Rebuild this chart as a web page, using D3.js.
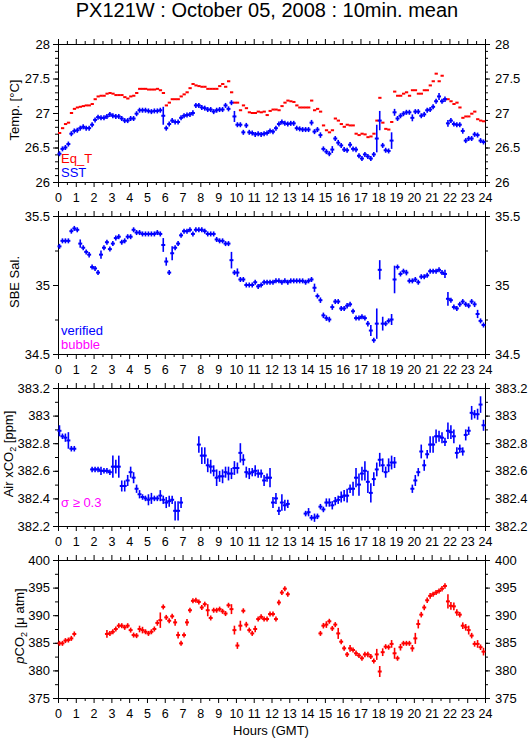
<!DOCTYPE html>
<html>
<head>
<meta charset="utf-8">
<script src="https://cdn.jsdelivr.net/npm/d3@7"></script>
<style>
  body { margin: 0; background: #fff; }
  svg { display: block; }
  text { font-family: "Liberation Sans", Arial, Helvetica, sans-serif; fill: #000; }
</style>
</head>
<body>
<svg id="chart"></svg>
<script>
// 10-minute means, one value per slot (144 slots, slot i starts at i/6 h GMT); null = no data
const eqT = [
  26.71, 26.78, 26.84, 26.86, 27.0, 27.06,
  27.08, 27.09, 27.1, 27.11, 27.11, 27.13,
  27.2, 27.24, 27.25, 27.25, 27.28, 27.29,
  27.28, 27.26, 27.26, 27.26, 27.23, 27.21,
  27.24, 27.25, 27.29, 27.35, 27.35, 27.35,
  27.34, 27.34, 27.34, 27.35, 27.33, 27.29,
  27.11, 27.15, 27.2, 27.2, 27.2, 27.24,
  27.27, 27.3, 27.36, 27.42, 27.4, 27.39,
  27.38, 27.38, 27.35, 27.35, 27.35, 27.35,
  27.39, 27.42, 27.38, 27.46, 27.3, 27.15,
  27.15, 27.04, 27.11, 27.07, 27.01, 27.0,
  27.0, 27.02, 27.01, 27.02, 26.97, 27.03,
  27.05, 27.05, 27.04, 27.1, 27.15, 27.18,
  27.17, 27.16, 27.11, 27.08, 27.08, 27.08,
  27.08, 27.18, 27.04, 27.06, 27.02, 26.82,
  26.75, 26.72, 26.75, 26.92, 26.89, 26.84,
  26.8, 26.83, 26.82, 26.82, 26.7, 26.68,
  26.7, 26.69, 26.65, 26.66, 26.7, 26.89,
  27.22, 26.86, 26.77, 26.76, 26.87, 27.31,
  27.25, 27.25, 27.28, 27.3, 27.25, 27.33,
  27.33, 27.28, 27.28, 27.33, 27.33, 27.4,
  27.46, 27.57, 27.46, 27.54, 27.2, 27.2,
  27.17, 27.13, 27.15, 27.08, 26.93, 26.95,
  26.95, 26.99, 27.02, 26.91, 26.89, 26.88
];

const sst = [
  26.41, 26.48, 26.5, 26.55, 26.7, 26.74,
  26.75, 26.78, 26.8, 26.78, 26.78, 26.83,
  26.9, 26.94, 26.93, 26.93, 26.95, 26.98,
  26.96, 26.95, 26.95, 26.92, 26.89, 26.89,
  26.92, 26.92, 26.99, 27.04, 27.04, 27.04,
  27.03, 27.02, 27.03, 27.03, 27.04, 26.96,
  26.78, 26.84, 26.89, 26.87, 26.87, 26.93,
  26.96, 26.97, 26.98, 27.0, 27.11, 27.11,
  27.08, 27.07, 27.05, 27.05, 27.02, 27.04,
  27.05, 27.05, 27.11, 27.06, 27.15, 26.95,
  26.83, 26.83, 26.72, 26.82, 26.72, 26.71,
  26.69, 26.7, 26.69, 26.7, 26.71, 26.74,
  26.73, 26.78, 26.84, 26.87, 26.85, 26.84,
  26.85, 26.85, 26.78, 26.77, 26.76, 26.76,
  26.76, 26.86, 26.73, 26.76, 26.68, 26.48,
  26.44, 26.41, 26.47, 26.63, 26.57, 26.53,
  26.47, 26.46, 26.54, 26.48, 26.47, 26.38,
  26.34, 26.4, 26.37, 26.34, 26.4, 26.63,
  26.89, 26.53, 26.46, 26.45, 26.6, 27.01,
  26.92, 26.96, 26.99, 27.01, 27.01, 26.93,
  27.02, 27.02, 26.96, 26.98, 27.04, 27.05,
  27.09, 27.17, 27.24, 27.17, 27.2, 26.85,
  26.89, 26.84, 26.83, 26.83, 26.74, 26.6,
  26.63, 26.63, 26.69, 26.68, 26.6, 26.58
];

const sstSd = [
  0.01, 0.01, 0.01, 0.03, 0.03, 0.01,
  0.01, 0.03, 0.02, 0.01, 0.01, 0.03,
  0.01, 0.01, 0.01, 0.01, 0.01, 0.01,
  0.01, 0.01, 0.01, 0.01, 0.01, 0.01,
  0.01, 0.03, 0.01, 0.01, 0.01, 0.01,
  0.01, 0.01, 0.01, 0.01, 0.01, 0.13,
  0.01, 0.01, 0.01, 0.01, 0.01, 0.01,
  0.01, 0.01, 0.01, 0.04, 0.01, 0.01,
  0.01, 0.01, 0.01, 0.01, 0.01, 0.01,
  0.01, 0.01, 0.01, 0.01, 0.01, 0.08,
  0.01, 0.01, 0.02, 0.01, 0.03, 0.01,
  0.01, 0.01, 0.01, 0.01, 0.02, 0.01,
  0.01, 0.01, 0.01, 0.01, 0.01, 0.01,
  0.01, 0.01, 0.01, 0.01, 0.01, 0.01,
  0.01, 0.04, 0.01, 0.02, 0.04, 0.01,
  0.01, 0.01, 0.05, 0.01, 0.04, 0.01,
  0.01, 0.01, 0.04, 0.01, 0.04, 0.01,
  0.01, 0.01, 0.01, 0.01, 0.01, 0.2,
  0.14, 0.01, 0.01, 0.01, 0.12, 0.05,
  0.01, 0.01, 0.01, 0.01, 0.01, 0.05,
  0.01, 0.01, 0.01, 0.01, 0.01, 0.01,
  0.01, 0.01, 0.05, 0.01, 0.04, 0.05,
  0.01, 0.01, 0.01, 0.01, 0.04, 0.01,
  0.03, 0.01, 0.03, 0.01, 0.01, 0.01
];

const salinity = [
  35.28, 35.32, 35.32, 35.32, 35.39, 35.41,
  35.4, 35.3, 35.27, 35.24, 35.22, 35.13,
  35.12, 35.09, 35.22, 35.27, 35.31, 35.26,
  35.3, 35.34, 35.35, 35.31, 35.32, 35.35,
  35.35, 35.4, 35.38, 35.38, 35.37, 35.37,
  35.37, 35.37, 35.37, 35.38, 35.37, 35.29,
  35.17, 35.09, 35.23, 35.27, 35.3, 35.36,
  35.39, 35.39, 35.4, 35.37, 35.4, 35.4,
  35.4, 35.39, 35.37, 35.37, 35.37, 35.33,
  35.32, 35.32, 35.3, 35.3, 35.18, 35.09,
  35.09, 35.04, 35.04, 35.0, 35.0, 35.0,
  35.02, 34.99, 35.0, 35.02, 35.02, 35.02,
  35.02, 35.03, 35.03, 35.02, 35.03, 35.02,
  35.03, 35.03, 35.03, 35.03, 35.03, 35.02,
  35.03, 35.04, 34.98, 34.92, 34.89, 34.78,
  34.76, 34.75, 34.84, 34.88, 34.88, 34.83,
  34.83, 34.85, 34.86, 34.81, 34.76, 34.76,
  34.77, 34.76, 34.72, 34.67, 34.6, 34.72,
  35.11, 34.72, 34.72, 34.74, 34.75, 35.04,
  35.13, 35.08, 35.1, 35.09, 35.03, 35.03,
  35.04, 35.02, 35.06, 35.06, 35.07, 35.1,
  35.1, 35.1, 35.11, 35.09, 35.08, 34.9,
  34.89, 34.84, 34.83, 34.86, 34.88, 34.86,
  34.85, 34.88, 34.86, 34.79, 34.74, 34.71
];

const salinitySd = [
  0.005, 0.005, 0.005, 0.005, 0.01, 0.005,
  0.005, 0.03, 0.01, 0.005, 0.02, 0.005,
  0.005, 0.005, 0.03, 0.01, 0.005, 0.005,
  0.01, 0.005, 0.01, 0.005, 0.01, 0.005,
  0.005, 0.005, 0.005, 0.005, 0.005, 0.005,
  0.005, 0.005, 0.005, 0.005, 0.005, 0.05,
  0.03, 0.005, 0.05, 0.01, 0.01, 0.01,
  0.005, 0.005, 0.005, 0.01, 0.005, 0.005,
  0.005, 0.005, 0.005, 0.01, 0.005, 0.005,
  0.005, 0.005, 0.01, 0.005, 0.06, 0.005,
  0.03, 0.005, 0.005, 0.005, 0.005, 0.005,
  0.005, 0.01, 0.005, 0.01, 0.005, 0.005,
  0.005, 0.005, 0.005, 0.005, 0.005, 0.005,
  0.005, 0.005, 0.005, 0.005, 0.005, 0.005,
  0.005, 0.01, 0.03, 0.005, 0.02, 0.02,
  0.02, 0.02, 0.02, 0.005, 0.005, 0.005,
  0.005, 0.02, 0.005, 0.005, 0.005, 0.005,
  0.005, 0.005, 0.02, 0.04, 0.005, 0.11,
  0.07, 0.05, 0.005, 0.005, 0.04, 0.1,
  0.005, 0.005, 0.005, 0.02, 0.005, 0.005,
  0.005, 0.005, 0.005, 0.005, 0.005, 0.005,
  0.005, 0.005, 0.005, 0.005, 0.03, 0.05,
  0.005, 0.005, 0.005, 0.005, 0.005, 0.005,
  0.005, 0.005, 0.02, 0.03, 0.005, 0.005
];

const airXco2 = [
  382.89, 382.85, 382.84, 382.82, 382.76, 382.76,
  null, null, null, null, null, 382.61,
  382.61, 382.61, 382.6, 382.6, 382.6, 382.59,
  382.63, 382.63, 382.63, 382.49, 382.49, 382.53,
  382.59, 382.55, 382.47, 382.43, 382.41, 382.4,
  382.39, 382.4, 382.4, 382.4, 382.42, 382.39,
  382.37, 382.38, 382.39, 382.31, 382.31, 382.37,
  null, null, null, null, null, 382.79,
  382.71, 382.71, 382.64, 382.63, 382.6, 382.55,
  382.56, 382.56, 382.59, 382.58, 382.58, 382.62,
  382.62, 382.73, 382.68, 382.59, 382.58, 382.59,
  382.6, 382.58, 382.58, 382.53, 382.55, 382.55,
  382.37, 382.4, 382.31, 382.37, 382.35, 382.36,
  null, null, null, null, null, 382.29,
  382.3, 382.26, 382.26, 382.27, 382.34, 382.32,
  382.37, 382.37, 382.35, 382.38, 382.39, 382.41,
  382.42, 382.42, 382.47, 382.47, 382.55, 382.5,
  382.58, 382.6, 382.52, 382.44, 382.54, 382.61,
  382.68, 382.64, 382.59, 382.64, 382.66, 382.66,
  null, null, null, null, null, 382.47,
  382.53, 382.59, 382.74, 382.64, 382.72, 382.79,
  382.79, 382.85, 382.85, 382.84, 382.81, 382.89,
  382.88, 382.85, 382.73, 382.76, 382.74, 382.86,
  382.89, 383.02, 383.01, 383.01, 383.08, 382.93
];

const airXco2Sd = [
  0.04, 0.02, 0.03, 0.06, 0.02, 0.02,
  0, 0, 0, 0, 0, 0.02,
  0.02, 0.02, 0.03, 0.02, 0.02, 0.02,
  0.08, 0.05, 0.08, 0.04, 0.04, 0.04,
  0.04, 0.04, 0.03, 0.03, 0.02, 0.02,
  0.04, 0.04, 0.02, 0.02, 0.04, 0.03,
  0.04, 0.04, 0.03, 0.07, 0.07, 0.04,
  0, 0, 0, 0, 0, 0.06,
  0.06, 0.06, 0.05, 0.05, 0.04, 0.06,
  0.04, 0.05, 0.04, 0.05, 0.04, 0.05,
  0.04, 0.07, 0.04, 0.04, 0.04, 0.03,
  0.04, 0.03, 0.03, 0.04, 0.03, 0.07,
  0.04, 0.04, 0.03, 0.06, 0.04, 0.03,
  0, 0, 0, 0, 0, 0.02,
  0.03, 0.02, 0.03, 0.02, 0.02, 0.02,
  0.03, 0.03, 0.03, 0.03, 0.03, 0.04,
  0.04, 0.05, 0.03, 0.05, 0.07, 0.08,
  0.05, 0.07, 0.08, 0.07, 0.05, 0.05,
  0.05, 0.05, 0.04, 0.05, 0.05, 0.04,
  0, 0, 0, 0, 0, 0.03,
  0.04, 0.03, 0.05, 0.04, 0.03, 0.06,
  0.06, 0.05, 0.04, 0.04, 0.03, 0.06,
  0.05, 0.05, 0.04, 0.03, 0.03, 0.04,
  0.03, 0.05, 0.03, 0.04, 0.06, 0.04
];

const pco2 = [
  384.9, 384.9, 385.4, 385.5, 385.8, 386.6,
  null, null, null, null, null, null,
  null, null, null, null, 386.6, 386.7,
  387.0, 387.5, 388.1, 388.1, 387.8, 388.1,
  387.3, 386.4, 386.3, 387.5, 387.3, 387.0,
  386.7, 387.0, 387.5, 388.6, 389.1, 391.5,
  389.6, 389.0, 389.8, 388.7, 386.4, 384.9,
  386.4, 388.7, 390.9, 392.6, 392.7, 392.4,
  391.4, 392.0, 390.9, 389.5, 390.9, 390.9,
  391.1, 390.7, 390.3, 391.8, 391.1, 387.3,
  384.5, 388.1, 390.8, 388.3, 387.3, 386.7,
  387.5, 389.3, 389.7, 389.3, 389.3, 390.2,
  390.2, 389.3, 392.3, 394.1, 394.8, 393.8,
  null, null, null, null, null, null,
  null, null, null, null, 386.7, 388.1,
  388.3, 388.9, 387.6, 388.3, 386.7, 385.2,
  384.0, 382.9, 384.0, 383.7, 383.1, 382.7,
  382.2, 382.9, 382.9, 382.5, 381.7, 382.9,
  379.8, 383.3, 384.3, 384.2, 384.8, 383.1,
  382.2, 384.2, 384.9, 384.9, 384.9, 384.0,
  385.8, 388.4, 390.1, 391.4, 392.7, 393.5,
  393.8, 394.1, 394.4, 394.8, 395.3, 392.5,
  391.7, 391.6, 390.5, 390.1, 388.1, 387.8,
  387.3, 386.3, 384.8, 384.8, 384.2, 383.4
];

const pco2Sd = [
  0.3, 0.2, 0.2, 0.3, 0.3, 0.3,
  0, 0, 0, 0, 0, 0,
  0, 0, 0, 0, 0.7, 0.3,
  0.3, 0.3, 0.4, 0.4, 0.3, 0.4,
  0.4, 0.3, 0.3, 0.6, 0.6, 0.3,
  0.3, 0.3, 0.3, 0.5, 1.4, 0.3,
  0.3, 0.3, 0.3, 0.6, 0.6, 0.3,
  0.3, 0.6, 0.4, 0.3, 0.3, 0.4,
  0.3, 0.3, 1.1, 0.3, 0.3, 0.3,
  0.3, 0.3, 0.3, 0.4, 0.9, 0.8,
  0.6, 0.9, 0.3, 0.5, 0.3, 0.4,
  0.6, 0.3, 0.3, 0.3, 0.3, 0.3,
  0.3, 0.4, 0.5, 0.4, 0.3, 0.3,
  0, 0, 0, 0, 0, 0,
  0, 0, 0, 0, 0.2, 0.5,
  0.6, 0.3, 0.3, 0.3, 1.0, 0.3,
  0.4, 0.3, 0.6, 0.4, 0.5, 0.4,
  0.3, 0.5, 0.5, 0.3, 0.3, 1.0,
  1.0, 0.7, 0.3, 0.3, 0.7, 1.0,
  0.4, 0.6, 0.4, 0.3, 0.4, 0.6,
  1.0, 0.8, 0.5, 0.5, 0.5, 0.5,
  0.4, 0.3, 0.3, 0.5, 0.5, 1.3,
  0.7, 0.7, 0.6, 0.5, 0.6, 0.6,
  0.8, 0.5, 0.5, 0.7, 0.5, 0.7
];

// tick labels
const hourTicks = [0, 1, 2, 3, 4, 5, 6, 7, 8, 9, 10, 11, 12, 13, 14, 15, 16, 17, 18, 19, 20, 21, 22, 23, 24];
const tempTicks = [26, 26.5, 27, 27.5, 28];
const salTicks = [34.5, 35, 35.5];
const xco2Ticks = [382.2, 382.4, 382.6, 382.8, 383, 383.2];
const pco2Ticks = [375, 380, 385, 390, 395, 400];

const slotHours = 1 / 6;
const W = 529, H = 739;
const panelH = 138;

const svg = d3.select('#chart').attr('width', W).attr('height', H);

const x = d3.scaleLinear().domain([0, 24]).range([58, 485]);
const halfHours = d3.range(0.5, 24, 1);

svg.append('text')
  .attr('x', 267).attr('y', 17)
  .attr('text-anchor', 'middle')
  .style('font-size', '20px')
  .text('PX121W : October 05, 2008 : 10min. mean');

const panels = [
  {
    top: 44, domain: [26, 28], ticks: tempTicks, minorStep: 0.1, titleX: 19,
    title: t => t.text('Temp. [°C]'),
    series: [
      { values: eqT, sd: null, color: '#ff0000' },
      { values: sst, sd: sstSd, color: '#0000ff' }
    ],
    legend: [['Eq_T', '#ff0000'], ['SST', '#0000ff']]
  },
  {
    top: 216, domain: [34.5, 35.5], ticks: salTicks, minorStep: 0.25, titleX: 19,
    title: t => t.text('SBE Sal.'),
    series: [{ values: salinity, sd: salinitySd, color: '#0000ff' }],
    legend: [['verified', '#0000ff'], ['bubble', '#ff00ff']]
  },
  {
    top: 388, domain: [382.2, 383.2], ticks: xco2Ticks, minorStep: 0.1, titleX: 13,
    title: t => {
      t.append('tspan').text('Air xCO');
      t.append('tspan').attr('dy', 3).style('font-size', '9px').text('2');
      t.append('tspan').attr('dy', -3).text(' [ppm]');
    },
    series: [{ values: airXco2, sd: airXco2Sd, color: '#0000ff' }],
    legend: [['σ ≥ 0.3', '#ff00ff']]
  },
  {
    top: 560, domain: [375, 400], ticks: pco2Ticks, minorStep: 2.5, titleX: 24,
    title: t => {
      t.append('tspan').style('font-style', 'italic').text('p');
      t.append('tspan').text('CO');
      t.append('tspan').attr('dy', 3).style('font-size', '9px').text('2');
      t.append('tspan').attr('dy', -3).text(' [μ atm]');
    },
    series: [{ values: pco2, sd: pco2Sd, color: '#ff0000' }],
    legend: []
  }
];

panels.forEach(p => {
  const g = svg.append('g').attr('transform', `translate(0, ${p.top})`);
  const y = d3.scaleLinear().domain(p.domain).range([panelH, 0]);
  const minors = d3.range(p.domain[0], p.domain[1] + 1e-9, p.minorStep);

  const addAxis = (axis, transform, cls) => {
    const a = g.append('g').attr('class', cls).attr('transform', transform).call(axis);
    a.select('.domain').remove();
    a.selectAll('text').style('font-size', '13px').attr('fill', '#000');
    return a;
  };

  // x axes, bottom (labelled) and top
  addAxis(d3.axisBottom(x).tickValues(hourTicks).tickSize(5).tickPadding(6).tickFormat(d3.format('d')),
    `translate(0, ${panelH})`, 'x-bottom');
  addAxis(d3.axisBottom(x).tickValues(halfHours).tickSize(3).tickFormat(''),
    `translate(0, ${panelH})`, 'x-bottom-minor');
  addAxis(d3.axisTop(x).tickValues(hourTicks).tickSize(5).tickFormat(''), 'translate(0, 0)', 'x-top');
  addAxis(d3.axisTop(x).tickValues(halfHours).tickSize(3).tickFormat(''), 'translate(0, 0)', 'x-top-minor');

  // y axes on both sides
  addAxis(d3.axisLeft(y).tickValues(p.ticks).tickSize(5).tickPadding(3).tickFormat(d => String(d)),
    `translate(${x(0)}, 0)`, 'y-left');
  addAxis(d3.axisLeft(y).tickValues(minors).tickSize(3).tickFormat(''), `translate(${x(0)}, 0)`, 'y-left-minor');
  addAxis(d3.axisRight(y).tickValues(p.ticks).tickSize(5).tickPadding(5).tickFormat(d => String(d)),
    `translate(${x(24)}, 0)`, 'y-right');
  addAxis(d3.axisRight(y).tickValues(minors).tickSize(3).tickFormat(''), `translate(${x(24)}, 0)`, 'y-right-minor');

  g.selectAll('.x-bottom text').style('font-size', '12.5px');

  g.append('rect')
    .attr('x', x(0) + 0.5).attr('y', 0.5)
    .attr('width', x(24) - x(0)).attr('height', panelH)
    .attr('fill', 'none').attr('stroke', '#000');

  // y title
  const t = g.append('text')
    .attr('transform', `translate(${p.titleX}, ${panelH / 2 - 3}) rotate(-90)`)
    .attr('text-anchor', 'middle')
    .style('font-size', '13px');
  p.title(t);

  // data marks: horizontal bar spans the 10-min slot, vertical bar is +/- sd
  p.series.forEach(s => {
    const pts = s.values
      .map((v, i) => ({ t: i * slotHours, v, sd: s.sd ? s.sd[i] : null }))
      .filter(d => d.v !== null);
    const mg = g.append('g').attr('stroke', s.color).attr('stroke-width', 2);

    mg.selectAll('line.h').data(pts).join('line')
      .attr('class', 'h')
      .attr('x1', d => x(d.t) - (s.sd ? 0.5 : 0))
      .attr('x2', d => x(d.t + slotHours) + (s.sd ? 0.5 : 0.3))
      .attr('y1', d => y(d.v)).attr('y2', d => y(d.v));

    if (s.sd) {
      mg.selectAll('line.v').data(pts).join('line')
        .attr('class', 'v')
        .attr('stroke-width', 1.6)
        .attr('x1', d => x(d.t + slotHours / 2)).attr('x2', d => x(d.t + slotHours / 2))
        .attr('y1', d => Math.min(y(d.v + d.sd), y(d.v) - 2.5))
        .attr('y2', d => Math.max(y(d.v - d.sd), y(d.v) + 2.5));
    }
  });

  // legend
  p.legend.forEach(([label, color], i) => {
    g.append('text')
      .attr('x', 61).attr('y', 119 + i * 13.5)
      .attr('fill', color)
      .style('fill', color)
      .style('font-size', '13px')
      .text(label);
  });
});

svg.append('text')
  .attr('x', 271).attr('y', 735)
  .attr('text-anchor', 'middle')
  .style('font-size', '13px')
  .text('Hours (GMT)');
</script>
</body>
</html>
